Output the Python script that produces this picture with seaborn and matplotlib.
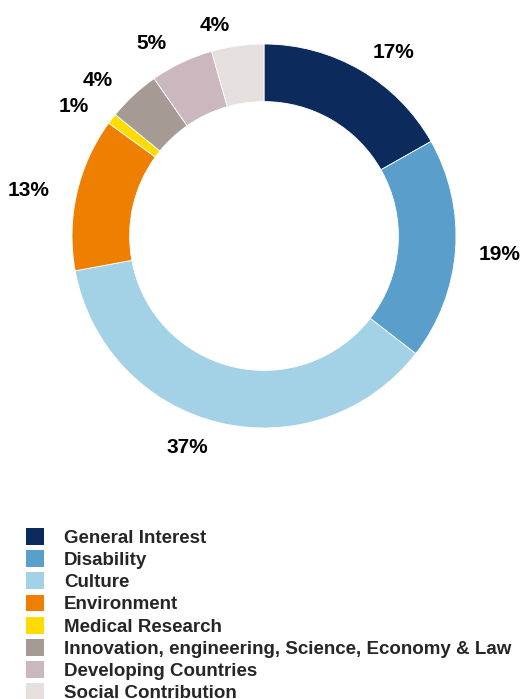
import matplotlib
matplotlib.use("Agg")
import matplotlib.pyplot as plt
from matplotlib.patches import Patch
import numpy as np
import seaborn as sns

categories = ["General Interest", "Disability", "Culture", "Environment",
              "Medical Research", "Innovation, engineering, Science, Economy & Law",
              "Developing Countries", "Social Contribution"]
values = [16.8, 18.7, 36.6, 12.9, 0.9, 4.4, 5.3, 4.4]
colors = ["#0c2a5c", "#5a9fcb", "#a3d1e5", "#ef7f00",
          "#ffdc00", "#a59a94", "#cab8be", "#e5e0dd"]

sns.set_theme(style="white")
plt.rcParams['font.family'] = ['Liberation Sans', 'DejaVu Sans']

W, H = 523, 699
fig = plt.figure(figsize=(W / 100, H / 100), dpi=100)
cx, cy, R, half = 264, 236, 192, 260
ax = fig.add_axes([(cx - half) / W, 1 - (cy + half) / H, 2 * half / W, 2 * half / H])

wedges, _ = ax.pie(
    values, colors=colors, startangle=90, counterclock=False, radius=1,
    wedgeprops=dict(width=0.30, edgecolor='white', linewidth=0.6))

total = sum(values)
r0 = 1.12
for w, v in zip(wedges, values):
    ang = np.deg2rad((w.theta1 + w.theta2) / 2)
    x, y = r0 * np.cos(ang), r0 * np.sin(ang)
    ha = 'left' if x > 0 else 'right'
    dx = 0 if x > 0 else -5
    dy = -2 if y > 0 else -3
    ax.annotate(f"{v / total * 100:.0f}%", xy=(x, y), xytext=(dx, dy),
                textcoords='offset pixels', ha=ha, va='center',
                fontsize=15, fontweight='bold', color='black')

ax.set_xlim(-half / R, half / R)
ax.set_ylim(-half / R, half / R)
ax.set_aspect('equal')
ax.axis('off')

handles = [Patch(facecolor=c, edgecolor='none') for c in colors]
fig.legend(handles, categories, loc='upper left',
           bbox_to_anchor=(26 / W, 1 - 528 / H), frameon=False,
           borderpad=0, borderaxespad=0,
           handlelength=0.96, handleheight=1.0, handletextpad=1.07,
           labelspacing=0.18, prop=dict(size=13.5, weight='bold'))

fig.savefig("out.png", dpi=100)
